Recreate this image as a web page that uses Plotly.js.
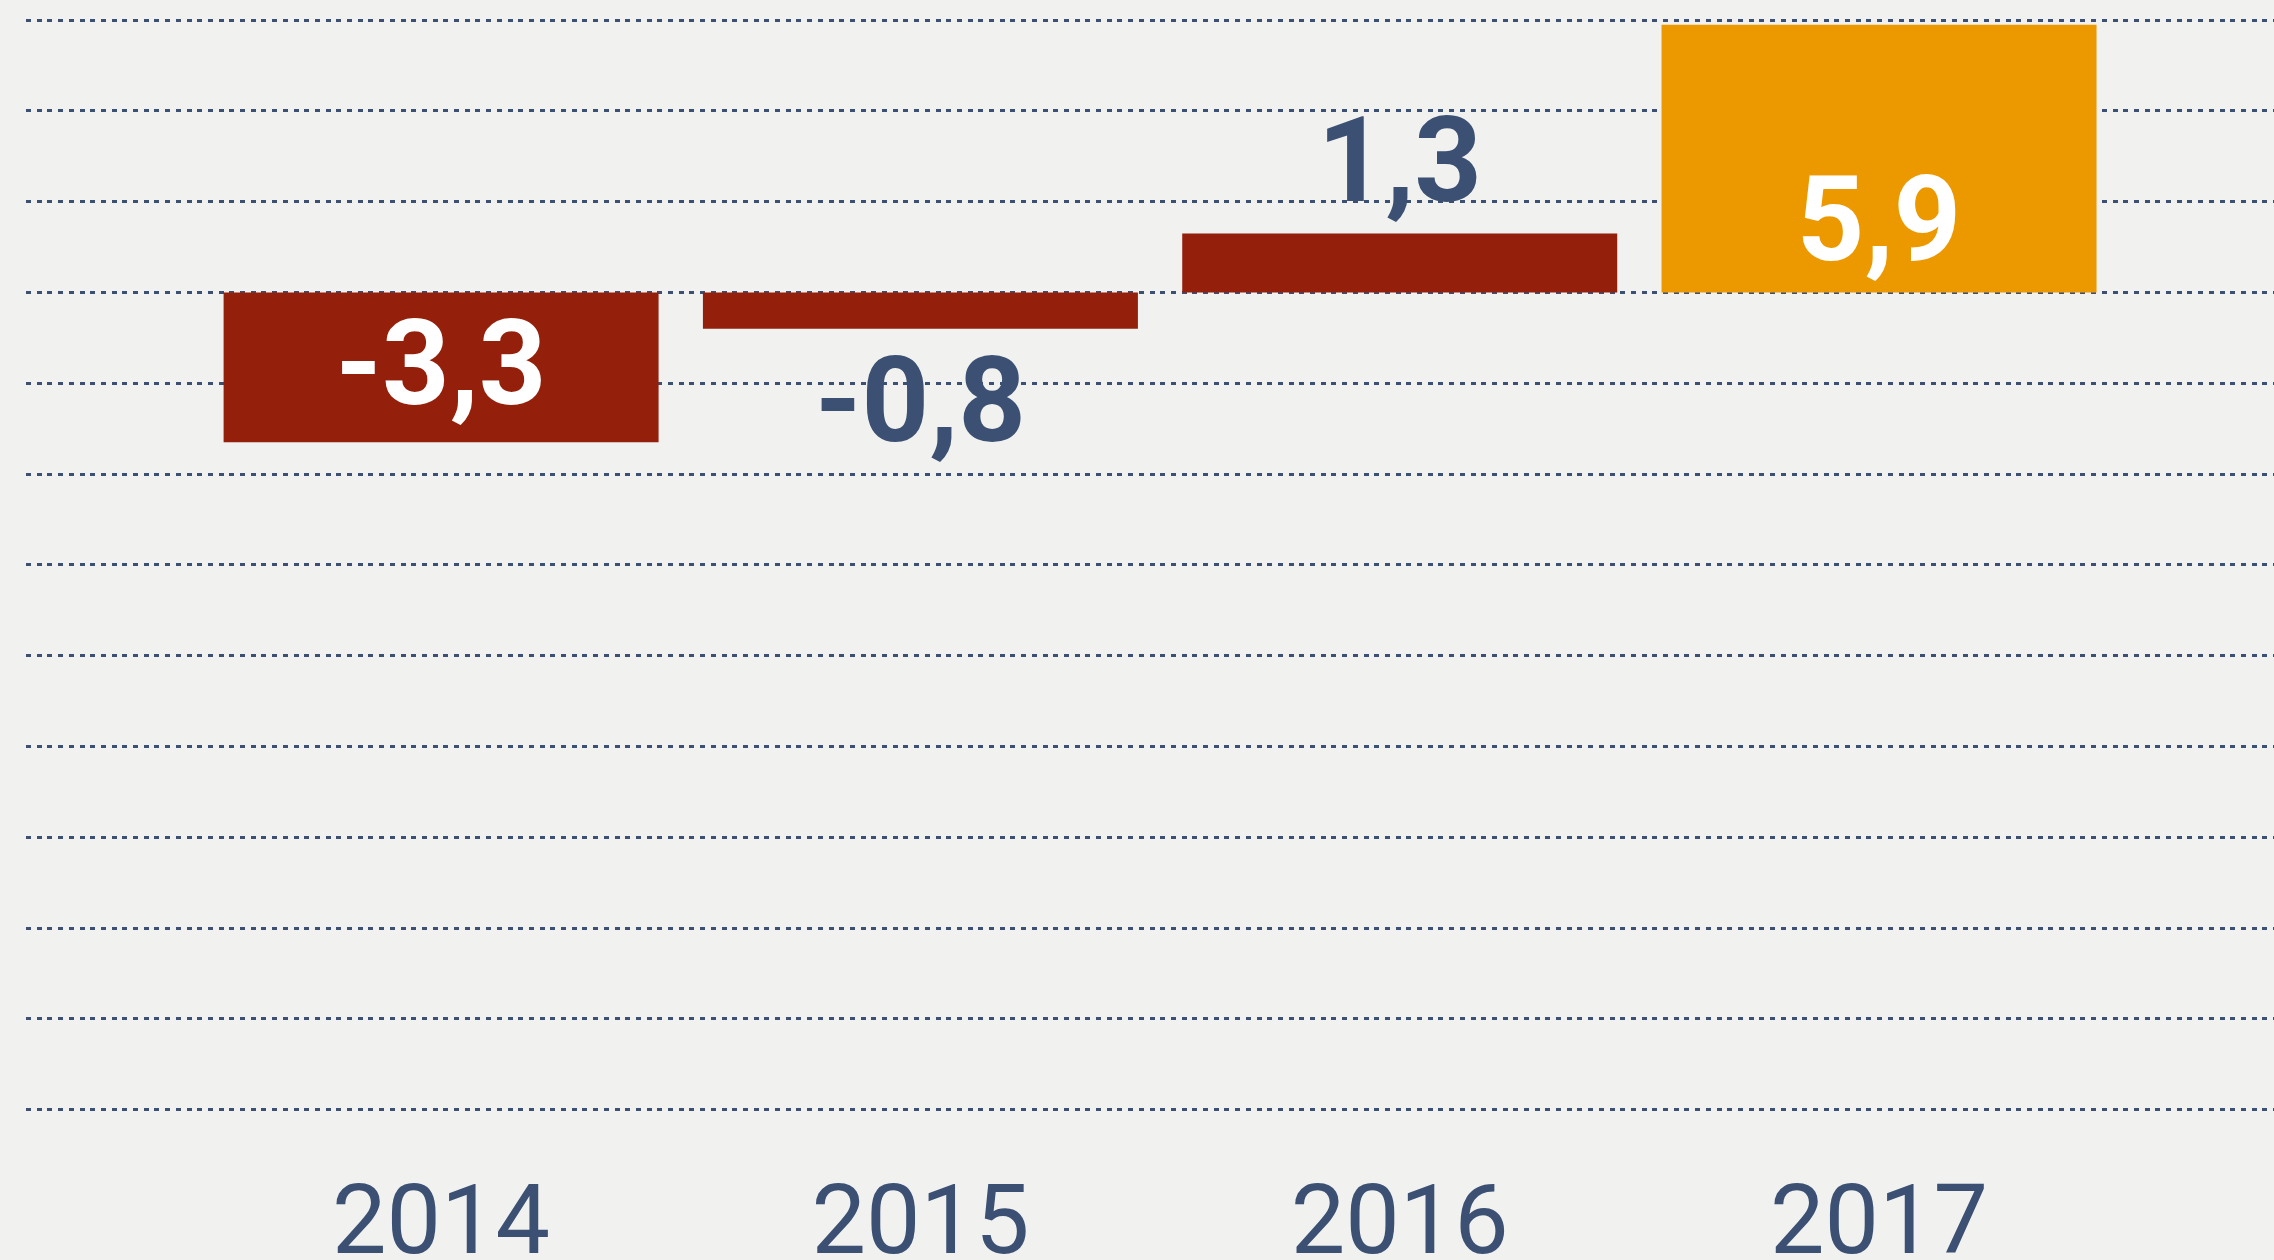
<!DOCTYPE html>
<html>
<head>
<meta charset="utf-8">
<script src="https://cdn.plot.ly/plotly-3.0.1.min.js"></script>
<style>
  html, body { margin: 0; padding: 0; background: #F1F1EF; }
  #chart { width: 2274px; height: 1260px; }
</style>
</head>
<body>
<div id="chart"></div>
<script>
const years = ["2014", "2015", "2016", "2017"];
const values = [-3.3, -0.8, 1.3, 5.9];
const barColors = ["#941F0A", "#941F0A", "#941F0A", "#EC9900"];
const labelPositions = ["inside", "outside", "outside", "inside"];
const labels = values.map(v => v.toFixed(1).replace(".", ","));

const trace = {
  type: "bar",
  x: years,
  y: values,
  marker: { color: barColors, line: { width: 0 } },
  text: labels,
  textposition: labelPositions,
  insidetextanchor: "start",
  constraintext: "none",
  cliponaxis: false,
  textfont: { family: "Roboto", size: 118, weight: 700 },
  insidetextfont: { family: "Roboto", size: 118, weight: 700, color: "#FFFFFF" },
  outsidetextfont: { family: "Roboto", size: 118, weight: 700, color: "#3B5072" },
  hoverinfo: "none"
};

const layout = {
  width: 2274,
  height: 1260,
  paper_bgcolor: "#F1F1EF",
  plot_bgcolor: "#F1F1EF",
  margin: { l: 26, r: 0, t: 0, b: 105 },
  showlegend: false,
  bargap: 0.0925,
  xaxis: {
    type: "category",
    range: [-0.866, 3.824],
    showgrid: false,
    zeroline: false,
    showline: false,
    ticks: "",
    tickfont: { family: "Roboto", size: 97, color: "#3B5072" }
  },
  yaxis: {
    range: [-19.0, 6.443],
    tickvals: [6, 4, 2, 0, -2, -4, -6, -8, -10, -12, -14, -16, -18],
    showticklabels: false,
    showgrid: true,
    gridcolor: "#3B5072",
    gridwidth: 3,
    griddash: "5px,5.7px",
    zeroline: false,
    showline: false,
    ticks: ""
  }
};

Plotly.newPlot("chart", [trace], layout, { displayModeBar: false, staticPlot: true });
</script>
</body>
</html>
